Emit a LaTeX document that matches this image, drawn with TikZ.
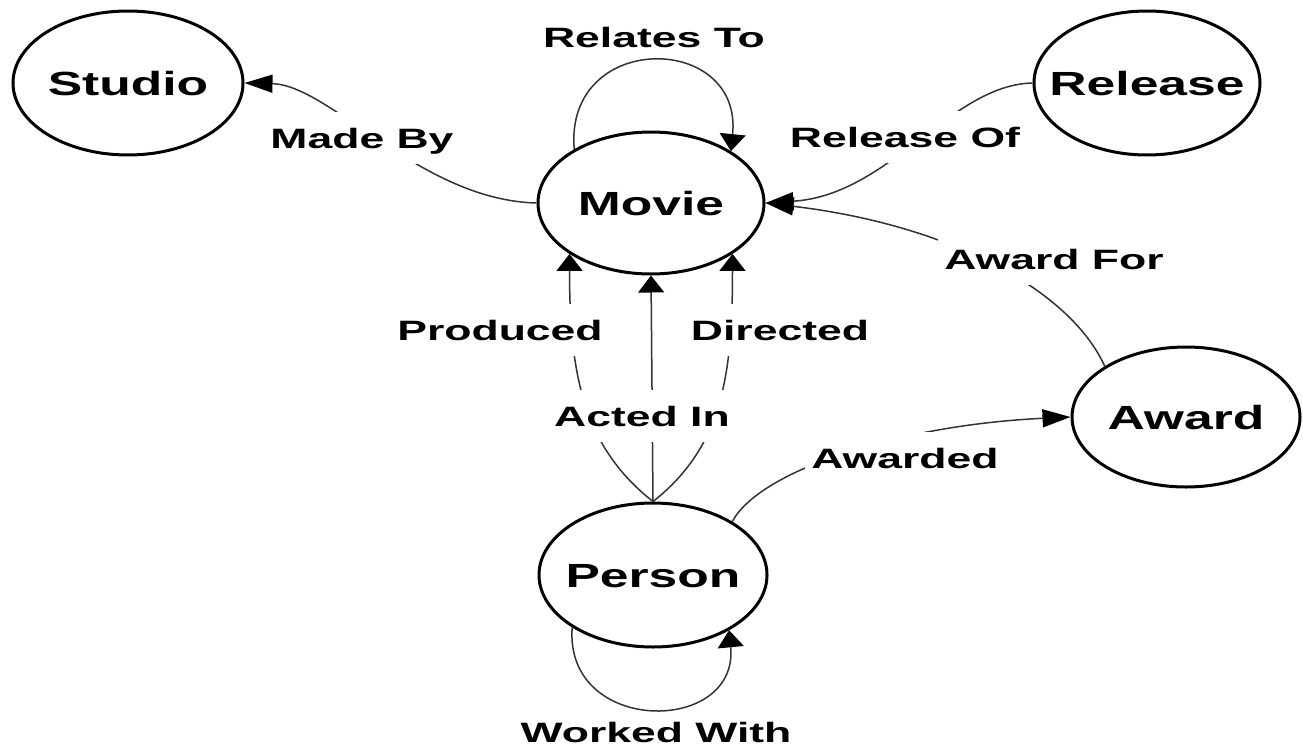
\documentclass[tikz,border=0pt]{standalone}
\usepackage{fontspec}
\newfontfamily\nodefont[FakeStretch=1.54]{Liberation Sans}
\newfontfamily\edgefont[FakeStretch=1.59]{Liberation Sans}
\usetikzlibrary{shapes.geometric,arrows.meta}
\newcommand\entlabel[1]{\makebox[0pt]{#1}}
\begin{document}
\begin{tikzpicture}[x=1pt,y=-1pt,
  entity/.style={ellipse,draw=black,line width=3pt,minimum width=228pt,minimum height=142pt,inner sep=0pt,
    font=\nodefont\bfseries\fontsize{33.5}{36}\selectfont,text height=24pt,text depth=0pt},
  rel/.style={line width=1.5pt,draw=black!80},
  harrow/.style={-{Triangle[length=28pt,width=18pt,color=black]}},
  varrow/.style={-{Triangle[length=17pt,width=26pt,color=black]}},
  lbl/.style={font=\edgefont\bfseries\fontsize{28}{30}\selectfont,text height=20pt,text depth=0pt,
    inner xsep=6pt,inner ysep=16pt,fill=white},
  looplbl/.style={font=\edgefont\bfseries\fontsize{28}{30}\selectfont,text height=20pt,text depth=0pt,inner sep=0pt}]
\useasboundingbox (0,0) rectangle (1303,747);
\fill[white] (0,0) rectangle (1303,747);

% entities
\node[entity,minimum width=230pt,minimum height=144pt] (studio) at (128,83) {\entlabel{Studio}};
\node[entity,minimum width=226pt] (movie) at (651,203) {\entlabel{Movie}};
\node[entity,minimum width=226pt,minimum height=144pt] (release) at (1147,83) {\entlabel{Release}};
\node[entity,minimum height=140pt] (award) at (1186,417) {\entlabel{Award}};
\node[entity,minimum height=144pt] (person) at (653,575) {\entlabel{Person}};

% relations
\draw[rel,varrow] (movie.145) .. controls +(-10,-119) and +(12,-119) .. (movie.33);
\draw[rel,harrow] (movie.west) .. controls (420,200) and (330,85) .. (studio.east);
\draw[rel,harrow] (release.west) .. controls (950,85) and (890,195) .. (movie.east);
\draw[rel,harrow] (award.148) .. controls (1070,290) and (950,225) .. (movie.east);
\draw[rel,varrow] (person.north) .. controls +(-70,-55) and +(0,120) .. (movie.212);
\draw[rel,varrow] (person.north) .. controls +(70,-55) and +(0,120) .. (movie.328);
\draw[rel,varrow] (person.north) -- (movie.south);
\draw[rel,harrow] (person.34) .. controls (760,470) and (900,425) .. (award.west);
\draw[rel,varrow] (person.213) .. controls +(-8,108) and +(10,105) .. (person.324);

% labels
\node[looplbl] (lrel) at (654,37) {Relates To};
\node[lbl] (lmade) at (362,138) {Made By};
\node[lbl] (lrelof) at (905,137) {Release Of};
\node[lbl] (lawfor) at (1054,259) {Award For};
\node[lbl] (lprod) at (500,330) {Produced};
\node[lbl] (ldir) at (780,330) {Directed};
\node[lbl] (lacted) at (642,416) {Acted In};
\node[lbl] (lawd) at (905,458) {Awarded};
\node[looplbl] (lwork) at (656,732) {Worked With};
\end{tikzpicture}
\end{document}
